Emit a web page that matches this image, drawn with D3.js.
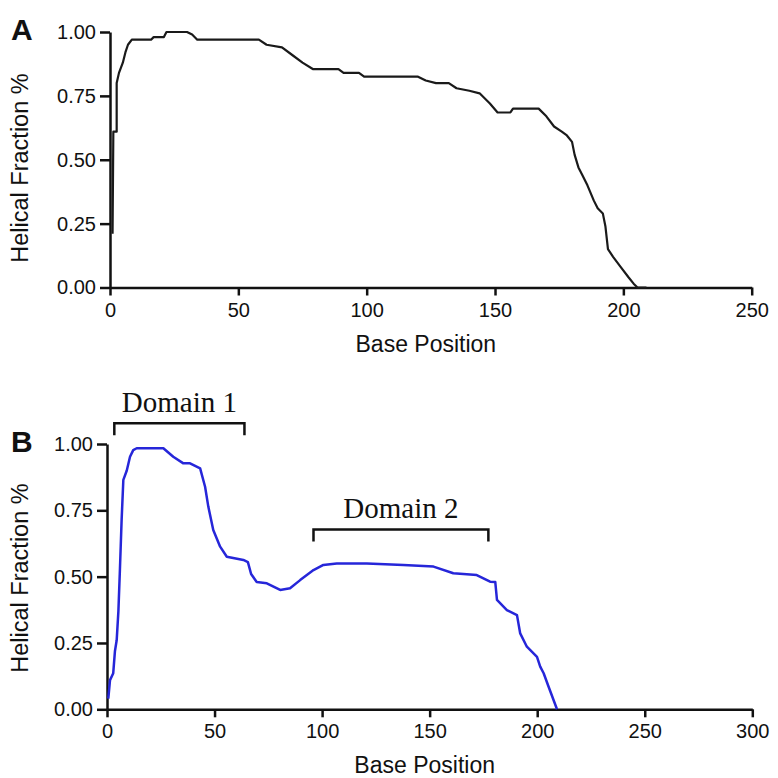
<!DOCTYPE html>
<html>
<head>
<meta charset="utf-8">
<script src="https://cdn.jsdelivr.net/npm/d3@7"></script>
<style>
  body { margin: 0; background: #fff; }
  svg text { font-family: "Liberation Sans", Arial, sans-serif; fill: #111; }
  .axis path, .axis line { stroke: #111; stroke-width: 2.5; }
  .axis text { font-size: 20px; }
  .domainLabel { font-family: "Liberation Serif", "Times New Roman", serif !important; font-size: 29px; }
</style>
</head>
<body>
<div id="chart"></div>
<script>
// panel A (black curve)
const posA = [1, 1.3, 2.6, 2.6, 3.5, 5, 6, 7, 8.5, 16, 17, 21, 22, 30, 32, 34, 58, 61, 67, 71, 75, 79, 89, 91, 97, 99, 120, 123, 127, 132, 135, 140, 144, 148, 151, 156, 157, 167, 170, 173, 176, 178, 180, 181, 182.5, 184, 186, 188.5, 190, 192, 193, 194, 196, 199, 202, 204, 205.5, 209];
const fracA = [0.21, 0.61, 0.61, 0.80, 0.84, 0.88, 0.92, 0.95, 0.97, 0.97, 0.98, 0.98, 1.00, 1.00, 0.99, 0.97, 0.97, 0.95, 0.94, 0.91, 0.88, 0.855, 0.855, 0.84, 0.84, 0.825, 0.825, 0.81, 0.80, 0.80, 0.78, 0.77, 0.76, 0.72, 0.685, 0.685, 0.70, 0.70, 0.67, 0.63, 0.61, 0.595, 0.57, 0.52, 0.47, 0.44, 0.40, 0.34, 0.31, 0.29, 0.24, 0.15, 0.12, 0.08, 0.04, 0.015, 0, 0];

// panel B (blue curve)
const posB = [0.6, 1.4, 2.9, 3.7, 4.5, 5.3, 6, 6.8, 7.6, 9.2, 10.7, 12.2, 13.8, 26.2, 30.8, 35.5, 38.6, 43.3, 45.6, 47.1, 49.4, 52.6, 55.7, 63.4, 65.5, 67, 69.6, 74.3, 80.5, 85.1, 89.8, 96, 100.6, 106.8, 120.8, 137.8, 151.8, 161, 171.9, 178.1, 180.5, 181.3, 185.9, 190.6, 192.1, 195.2, 199.9, 201.4, 203, 205.3, 209.2];
const fracB = [0.04, 0.11, 0.136, 0.22, 0.26, 0.37, 0.525, 0.714, 0.865, 0.90, 0.952, 0.977, 0.984, 0.984, 0.952, 0.927, 0.927, 0.908, 0.839, 0.764, 0.676, 0.613, 0.575, 0.563, 0.555, 0.51, 0.48, 0.475, 0.45, 0.456, 0.487, 0.525, 0.544, 0.55, 0.55, 0.544, 0.538, 0.513, 0.506, 0.481, 0.48, 0.412, 0.374, 0.355, 0.286, 0.236, 0.198, 0.161, 0.136, 0.085, 0];

const yTicks = [0, 0.25, 0.5, 0.75, 1];
const xTicksA = [0, 50, 100, 150, 200, 250];
const xTicksB = [0, 50, 100, 150, 200, 250, 300];

// domain brackets in panel B: [name, start, end, bracket height]
const domainNames = ["Domain 1", "Domain 2"];
const domainStart = [3.4, 96];
const domainEnd = [63.9, 177.3];
const domainLevel = [1.078, 0.678];

const svg = d3.select("#chart").append("svg")
  .attr("width", 778)
  .attr("height", 778);

function panel(opt) {
  const x = d3.scaleLinear().domain(opt.xDomain).range(opt.xRange);
  const y = d3.scaleLinear().domain([0, 1]).range(opt.yRange);

  svg.append("g")
    .attr("class", "axis")
    .attr("transform", "translate(0," + opt.yRange[0] + ")")
    .call(d3.axisBottom(x).tickValues(opt.xTicks).tickFormat(d3.format("d")).tickSize(8).tickSizeOuter(0).tickPadding(7));

  svg.append("g")
    .attr("class", "axis")
    .attr("transform", "translate(" + opt.xRange[0] + ",0)")
    .call(d3.axisLeft(y).tickValues(yTicks).tickFormat(d3.format(".2f")).tickSize(10).tickSizeOuter(0).tickPadding(4));

  svg.selectAll(".axis .domain").attr("fill", "none");

  const line = d3.line().x(d => x(d[0])).y(d => y(d[1]));
  svg.append("path")
    .datum(d3.zip(opt.pos, opt.frac))
    .attr("fill", "none")
    .attr("stroke", opt.color)
    .attr("stroke-width", opt.width)
    .attr("stroke-linejoin", "round")
    .attr("d", line);

  svg.append("text")
    .attr("x", (opt.xRange[0] + opt.xRange[1]) / 2 - 5)
    .attr("y", opt.yRange[0] + 64)
    .attr("text-anchor", "middle")
    .style("font-size", "23px")
    .text("Base Position");

  svg.append("text")
    .attr("transform", "translate(28," + opt.titleY + ") rotate(-90)")
    .attr("text-anchor", "middle")
    .style("font-size", "23.5px")
    .text("Helical Fraction %");

  svg.append("text")
    .attr("x", 11)
    .attr("y", opt.letterY)
    .style("font-size", "30px")
    .style("font-weight", "bold")
    .text(opt.letter);

  return { x, y };
}

panel({
  letter: "A", letterY: 40, titleY: 168,
  xDomain: [0, 250], xRange: [110, 751.7], yRange: [287.5, 32],
  xTicks: xTicksA, pos: posA, frac: fracA, color: "#1a1a1a", width: 2.2
});

const pB = panel({
  letter: "B", letterY: 452, titleY: 578,
  xDomain: [0, 300], xRange: [107, 752.3], yRange: [709.3, 444],
  xTicks: xTicksB, pos: posB, frac: fracB, color: "#2626d9", width: 2.5
});

domainNames.forEach((name, i) => {
  const x0 = pB.x(domainStart[i]), x1 = pB.x(domainEnd[i]);
  const yb = pB.y(domainLevel[i]);
  svg.append("path")
    .attr("fill", "none")
    .attr("stroke", "#111")
    .attr("stroke-width", 2.5)
    .attr("d", "M" + x0 + "," + (yb + 12) + "V" + yb + "H" + x1 + "V" + (yb + 12));
  svg.append("text")
    .attr("class", "domainLabel")
    .attr("x", (x0 + x1) / 2)
    .attr("y", yb - 11)
    .attr("text-anchor", "middle")
    .text(name);
});
</script>
</body>
</html>
